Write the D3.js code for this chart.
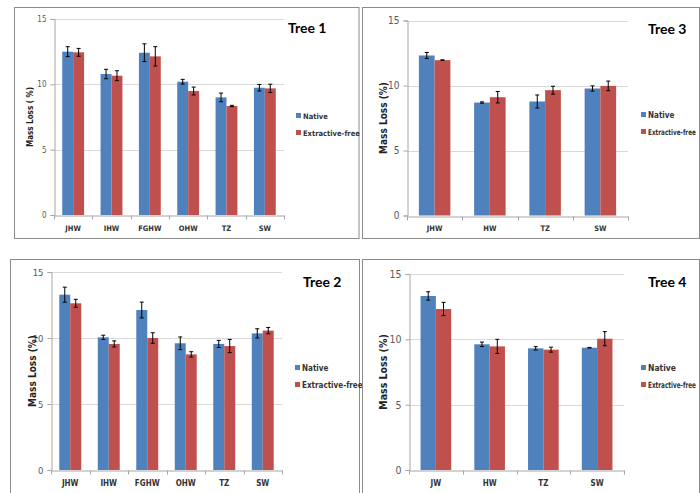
<!DOCTYPE html>
<html><head><meta charset="utf-8">
<script src="https://cdn.jsdelivr.net/npm/d3@7/dist/d3.min.js"></script>
<style>
body{margin:0;background:#fff;}
svg{display:block;}
</style></head>
<body>
<svg id="chart" width="700" height="493"></svg>
<script>
// ---- data ----
const seriesNames = ["Native", "Extractive-free"];
const yTicks = [0, 5, 10, 15];

const tree1Categories = ["JHW", "IHW", "FGHW", "OHW", "TZ", "SW"];
const tree1Native = [12.5, 10.79, 12.42, 10.2, 9.0, 9.74];
const tree1NativeErr = [0.38, 0.36, 0.68, 0.18, 0.33, 0.25];
const tree1Extractive = [12.45, 10.66, 12.14, 9.49, 8.34, 9.69];
const tree1ExtractiveErr = [0.3, 0.38, 0.74, 0.3, 0.05, 0.32];

const tree3Categories = ["JHW", "HW", "TZ", "SW"];
const tree3Native = [12.31, 8.69, 8.77, 9.77];
const tree3NativeErr = [0.23, 0.05, 0.5, 0.2];
const tree3Extractive = [11.95, 9.1, 9.64, 9.97];
const tree3ExtractiveErr = [0.03, 0.44, 0.3, 0.37];

const tree2Categories = ["JHW", "IHW", "FGHW", "OHW", "TZ", "SW"];
const tree2Native = [13.28, 10.05, 12.12, 9.6, 9.55, 10.35];
const tree2NativeErr = [0.57, 0.16, 0.6, 0.48, 0.27, 0.35];
const tree2Extractive = [12.63, 9.55, 10.0, 8.76, 9.39, 10.56];
const tree2ExtractiveErr = [0.3, 0.23, 0.4, 0.2, 0.5, 0.24];

const tree4Categories = ["JW", "HW", "TZ", "SW"];
const tree4Native = [13.32, 9.62, 9.31, 9.36];
const tree4NativeErr = [0.32, 0.17, 0.13, 0.02];
const tree4Extractive = [12.32, 9.46, 9.21, 10.05];
const tree4ExtractiveErr = [0.51, 0.54, 0.19, 0.54];

const colors = ["#4F81BD", "#C0504D"];

// ---- layout ----
const panels = [
  {title:"Tree 1", yTitle:"Mass Loss ( %)", cats:tree1Categories,
   vals:[tree1Native, tree1Extractive], errs:[tree1NativeErr, tree1ExtractiveErr],
   box:[14.5, 7.5, 344.5, 231], plot:{x0:54, x1:284, yTop:19, y0:215},
   yTitleX:30, tickFs:8, yTitleFs:8, catFs:7.5, catY:231, titleX:288, titleY:33,
   legX:296, legY:116, legFs:7.5, legFit:null},
  {title:"Tree 3", yTitle:"Mass Loss (%)", cats:tree3Categories,
   vals:[tree3Native, tree3Extractive], errs:[tree3NativeErr, tree3ExtractiveErr],
   box:[362.5, 7.5, 337, 231], plot:{x0:407, x1:628, yTop:20.5, y0:215.5},
   yTitleX:383, tickFs:10, yTitleFs:10, catFs:7.5, catY:231, titleX:648, titleY:34,
   legX:641, legY:115, legFs:8, legFit:48},
  {title:"Tree 2", yTitle:"Mass Loss (%)", cats:tree2Categories,
   vals:[tree2Native, tree2Extractive], errs:[tree2NativeErr, tree2ExtractiveErr],
   box:[10.5, 259.5, 349, 260], plot:{x0:51, x1:282, yTop:272, y0:470},
   yTitleX:32, tickFs:9.5, yTitleFs:10, catFs:8, catY:486, titleX:303, titleY:287,
   legX:295, legY:368, legFs:8, legFit:null},
  {title:"Tree 4", yTitle:"Mass Loss (%)", cats:tree4Categories,
   vals:[tree4Native, tree4Extractive], errs:[tree4NativeErr, tree4ExtractiveErr],
   box:[362.5, 259.5, 337, 260], plot:{x0:409, x1:624, yTop:274, y0:470},
   yTitleX:383, tickFs:10.5, yTitleFs:10.5, catFs:8, catY:486, titleX:648, titleY:287,
   legX:641, legY:368, legFs:8.5, legFit:48}
];

const svg = d3.select("#chart");
const smallFont = "'Liberation Sans Narrow','DejaVu Sans Condensed','Arial Narrow',sans-serif";
const titleFont = "Lato, 'Open Sans', sans-serif";

panels.forEach(p => {
  const g = svg.append("g");
  // panel border
  g.append("rect").attr("x", p.box[0]).attr("y", p.box[1])
    .attr("width", p.box[2]).attr("height", p.box[3])
    .attr("fill", "#fff").attr("stroke", "#8c8c8c").attr("stroke-width", 1);

  const y = d3.scaleLinear().domain([0, 15]).range([p.plot.y0, p.plot.yTop]);
  const x0 = d3.scaleBand().domain(p.cats).range([p.plot.x0, p.plot.x1])
    .paddingInner(0.43).paddingOuter(0.215);
  const x1 = d3.scaleBand().domain([0, 1]).range([0, x0.bandwidth()]);

  // gridlines
  g.append("g").selectAll("line").data(yTicks.filter(t => t > 0)).join("line")
    .attr("x1", p.plot.x0).attr("x2", p.plot.x1)
    .attr("y1", d => Math.round(y(d)) + 0.5).attr("y2", d => Math.round(y(d)) + 0.5)
    .attr("stroke", "#d9d9d9").attr("stroke-width", 1);

  // y axis
  const yAxis = g.append("g").attr("transform", `translate(${Math.round(p.plot.x0)+0.5},0)`)
    .call(d3.axisLeft(y).tickValues(yTicks).tickSize(4).tickPadding(4).tickFormat(d3.format("d")));
  yAxis.select(".domain").attr("stroke", "#a6a6a6");
  yAxis.selectAll(".tick line").attr("stroke", "#a6a6a6");
  yAxis.selectAll("text").attr("fill", "#595959").style("font-family", smallFont)
    .style("font-size", p.tickFs + "px");

  // bars
  const groups = g.append("g").selectAll("g").data(p.cats).join("g")
    .attr("transform", d => `translate(${x0(d)},0)`);
  [0, 1].forEach(s => {
    groups.append("rect")
      .attr("x", (d) => x1(s))
      .attr("y", (d, i) => y(p.vals[s][i]))
      .attr("width", x1.bandwidth())
      .attr("height", (d, i) => y(0) - y(p.vals[s][i]))
      .attr("fill", colors[s]);
    // error bars
    const cx = x1(s) + x1.bandwidth() / 2;
    groups.append("line")
      .attr("x1", cx).attr("x2", cx)
      .attr("y1", (d, i) => y(p.vals[s][i] + p.errs[s][i]))
      .attr("y2", (d, i) => y(p.vals[s][i] - p.errs[s][i]))
      .attr("stroke", "#000").attr("stroke-width", 1);
    [1, -1].forEach(sign => {
      groups.append("line")
        .attr("x1", cx - 2).attr("x2", cx + 2)
        .attr("y1", (d, i) => y(p.vals[s][i] + sign * p.errs[s][i]))
        .attr("y2", (d, i) => y(p.vals[s][i] + sign * p.errs[s][i]))
        .attr("stroke", "#000").attr("stroke-width", 1);
    });
  });

  // x axis
  const xAxis = g.append("g").attr("transform", `translate(0,${Math.round(p.plot.y0)+0.5})`)
    .call(d3.axisBottom(x0).tickSize(0).tickFormat(""));
  xAxis.select(".domain").attr("stroke", "#a6a6a6");
  xAxis.selectAll(".tick").remove();
  // category boundary ticks
  const bounds = d3.range(p.cats.length + 1).map(i => p.plot.x0 + i * (p.plot.x1 - p.plot.x0) / p.cats.length);
  g.append("g").selectAll("line").data(bounds).join("line")
    .attr("x1", d => Math.round(d) + 0.5).attr("x2", d => Math.round(d) + 0.5)
    .attr("y1", Math.round(p.plot.y0) + 0.5).attr("y2", Math.round(p.plot.y0) + 4.5)
    .attr("stroke", "#a6a6a6");
  // category labels
  g.append("g").selectAll("text").data(p.cats).join("text")
    .attr("x", d => x0(d) + x0.bandwidth() / 2)
    .attr("y", p.catY)
    .attr("text-anchor", "middle")
    .attr("fill", "#333")
    .style("font-family", smallFont).style("font-weight", "bold")
    .style("font-size", p.catFs + "px")
    .text(d => d);

  // y title
  const cy = (p.plot.y0 + p.plot.yTop) / 2;
  g.append("text")
    .attr("transform", `translate(${p.yTitleX},${cy}) rotate(-90)`)
    .attr("text-anchor", "middle").attr("dy", "0.35em")
    .attr("fill", "#222")
    .style("font-family", smallFont).style("font-weight", "bold")
    .style("font-size", p.yTitleFs + "px")
    .text(p.yTitle);

  // panel title
  g.append("text").attr("x", p.titleX).attr("y", p.titleY)
    .attr("fill", "#000").style("font-family", titleFont).style("font-weight", "bold")
    .style("font-size", "14px").text(p.title);

  // legend
  seriesNames.forEach((name, s) => {
    const ly = p.legY + s * 17;
    g.append("rect").attr("x", p.legX).attr("y", ly - 3).attr("width", 5).attr("height", 5)
      .attr("fill", colors[s]);
    const t = g.append("text").attr("x", 0).attr("y", 0).attr("dy", "0.35em")
      .attr("fill", "#333").style("font-family", smallFont).style("font-weight", "bold")
      .style("font-size", p.legFs + "px").text(name);
    let k = 1;
    if (p.legFit) {
      const w = t.node().getComputedTextLength();
      k = Math.min(1, p.legFit / w);
    }
    t.attr("transform", `translate(${p.legX + 7},${ly}) scale(${k},1)`);
  });
});
</script>
</body></html>
